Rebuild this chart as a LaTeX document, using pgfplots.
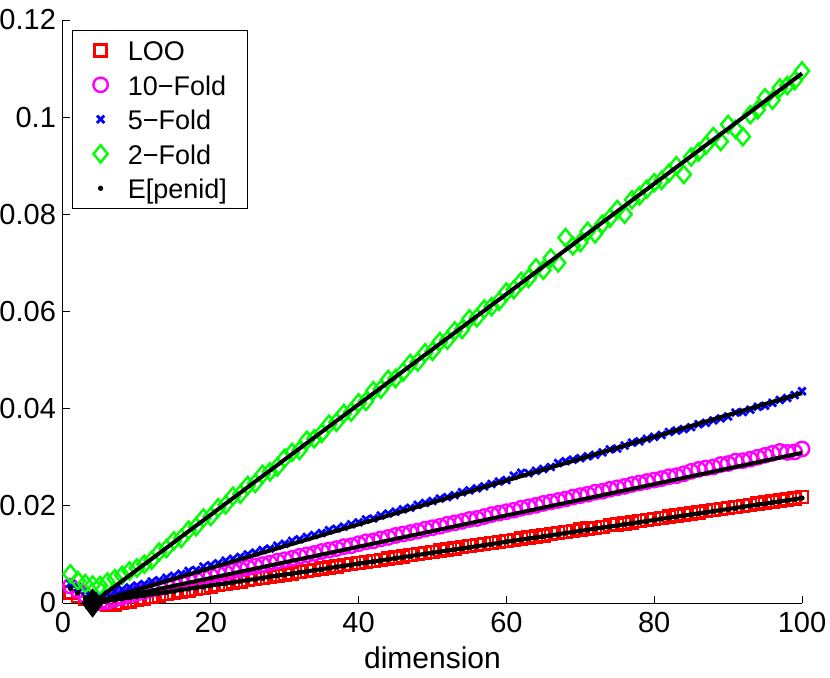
\documentclass[border=0pt]{standalone}
\usepackage{fontspec}
\setmainfont{Liberation Sans}
\usepackage{pgfplots}
\usepackage{pgfplotstable}
\pgfplotsset{compat=1.18}
\definecolor{mred}{rgb}{1,0,0}
\definecolor{mmag}{rgb}{1,0,1}
\definecolor{mblue}{rgb}{0,0,1}
\definecolor{mgreen}{rgb}{0,1,0}
\pgfplotsset{mleg/.style={legend image code/.code={\draw[##1] plot coordinates {(0pt,0pt)};}}}
\newcommand{\ls}{\rule[-2pt]{0pt}{14pt}}

\pgfplotstableread{
x loo k10 k5 k2 pen
1 .0022 .0035 .0040 .0060 .0030
2 .0015 .0026 .0032 .0046 .0021
3 .0008 .0016 .0024 .0040 .0011
4 .0002 .0006 .0018 .0037 .0000
5 -.0002 .0002 .0016 .0036 .0002
6 -.0003 .0003 .0020 .0043 .0004
7 -.0003 .0008 .0024 .0050 .0006
8 .0000 .0012 .0028 .0057 .0009
9 .0003 .0016 .0032 .0066 .0011
10 .0006 .0020 .0036 .0072 .0013
11 .0009 .0024 .0039 .0080 .0015
12 .0012 .0028 .0044 .0088 .0018
13 .0015 .0031 .0047 .0105 .0020
14 .0018 .0035 .0052 .0112 .0022
15 .0021 .0038 .0056 .0128 .0024
16 .0024 .0042 .0060 .0133 .0027
17 .0026 .0046 .0066 .0150 .0029
18 .0029 .0048 .0068 .0157 .0031
19 .0031 .0053 .0075 .0175 .0033
20 .0034 .0056 .0078 .0178 .0036
21 .0037 .0060 .0082 .0196 .0038
22 .0039 .0062 .0087 .0202 .0040
23 .0042 .0066 .0091 .0220 .0042
24 .0044 .0069 .0095 .0224 .0045
25 .0047 .0073 .0100 .0242 .0047
26 .0049 .0076 .0104 .0246 .0049
27 .0052 .0079 .0109 .0265 .0051
28 .0054 .0082 .0112 .0270 .0054
29 .0057 .0086 .0118 .0280 .0056
30 .0059 .0089 .0122 .0298 .0058
31 .0061 .0092 .0128 .0310 .0060
32 .0064 .0096 .0131 .0314 .0063
33 .0066 .0099 .0136 .0335 .0065
34 .0068 .0102 .0140 .0338 .0067
35 .0071 .0106 .0144 .0349 .0069
36 .0073 .0109 .0150 .0368 .0072
37 .0075 .0112 .0153 .0372 .0074
38 .0078 .0116 .0157 .0390 .0076
39 .0080 .0118 .0162 .0393 .0078
40 .0082 .0122 .0166 .0412 .0081
41 .0085 .0126 .0172 .0415 .0083
42 .0087 .0128 .0174 .0437 .0085
43 .0089 .0132 .0180 .0440 .0087
44 .0092 .0135 .0184 .0460 .0090
45 .0094 .0139 .0188 .0462 .0092
46 .0096 .0142 .0193 .0475 .0094
47 .0099 .0145 .0196 .0493 .0096
48 .0101 .0148 .0202 .0496 .0099
49 .0103 .0152 .0206 .0515 .0101
50 .0105 .0155 .0210 .0518 .0103
51 .0108 .0158 .0215 .0538 .0105
52 .0110 .0162 .0218 .0541 .0108
53 .0112 .0165 .0222 .0560 .0110
54 .0115 .0168 .0228 .0563 .0112
55 .0117 .0172 .0232 .0585 .0114
56 .0119 .0174 .0236 .0587 .0117
57 .0121 .0178 .0240 .0605 .0119
58 .0124 .0182 .0245 .0610 .0121
59 .0126 .0185 .0250 .0621 .0123
60 .0128 .0188 .0253 .0640 .0126
61 .0130 .0191 .0262 .0645 .0128
62 .0133 .0195 .0268 .0662 .0130
63 .0135 .0198 .0267 .0668 .0132
64 .0137 .0201 .0272 .0690 .0135
65 .0139 .0205 .0276 .0685 .0137
66 .0142 .0208 .0280 .0710 .0139
67 .0144 .0211 .0288 .0700 .0141
68 .0146 .0214 .0292 .0752 .0144
69 .0148 .0218 .0295 .0735 .0146
70 .0151 .0221 .0298 .0742 .0148
71 .0153 .0224 .0302 .0765 .0150
72 .0155 .0228 .0305 .0760 .0153
73 .0157 .0230 .0310 .0780 .0155
74 .0160 .0234 .0316 .0792 .0157
75 .0162 .0237 .0318 .0810 .0159
76 .0164 .0240 .0324 .0800 .0162
77 .0166 .0244 .0330 .0830 .0164
78 .0169 .0247 .0333 .0838 .0166
79 .0171 .0250 .0338 .0852 .0168
80 .0173 .0253 .0342 .0865 .0171
81 .0175 .0256 .0346 .0870 .0173
82 .0178 .0260 .0352 .0885 .0175
83 .0180 .0262 .0355 .0900 .0177
84 .0182 .0266 .0358 .0882 .0180
85 .0184 .0271 .0362 .0918 .0182
86 .0186 .0275 .0368 .0928 .0184
87 .0189 .0278 .0371 .0942 .0186
88 .0191 .0280 .0376 .0960 .0189
89 .0193 .0285 .0380 .0950 .0191
90 .0196 .0287 .0384 .0985 .0193
91 .0198 .0292 .0392 .0975 .0195
92 .0200 .0293 .0393 .0960 .0198
93 .0202 .0296 .0398 .1005 .0200
94 .0205 .0300 .0404 .1015 .0202
95 .0207 .0304 .0406 .1040 .0204
96 .0209 .0308 .0412 .1035 .0207
97 .0211 .0312 .0418 .1060 .0209
98 .0213 .0310 .0422 .1065 .0211
99 .0215 .0311 .0428 .1075 .0213
100 .0218 .0317 .0436 .1095 .0216
}\datatable

\begin{document}
\begin{tikzpicture}
\useasboundingbox (-31.5pt,-37pt) rectangle (383.5pt,301.5pt);
\begin{axis}[
  at={(0pt,0pt)}, anchor=south west,
  width=369.5pt, height=291.5pt, scale only axis,
  xmin=0, xmax=100, ymin=0, ymax=0.12,
  axis x line*=bottom, axis y line*=left,
  axis line style={-, line width=0.5pt},
  tick align=inside, major tick length=3.5pt,
  tick style={black, line width=0.5pt},
  xtick={0,20,40,60,80,100},
  ytick={0,0.02,0.04,0.06,0.08,0.1,0.12},
  scaled y ticks=false,
  yticklabel style={/pgf/number format/fixed, /pgf/number format/precision=2},
  /pgf/number format/assume math mode=true,
  ticklabel style={font=\fontsize{14.5}{17}\selectfont},
  xticklabel style={yshift=-1pt},
  xlabel={dimension},
  xlabel style={font=\fontsize{15}{17}\selectfont, at={(axis description cs:0.5,0)}, anchor=base, yshift=-32.5pt},
  clip=false, clip mode=individual,
  legend cell align=left,
  legend style={at={(0,1)}, anchor=north west, xshift=4.5pt, yshift=-5pt,
    draw=black, thin, font=\fontsize{13.5}{17}\selectfont,
    inner xsep=10.5pt, inner ysep=3.2pt, row sep=3.75pt, column sep=10pt,
    nodes={inner sep=0pt}},
]
\addplot[only marks, mleg, mark=square, mark size=3pt, color=mred, line width=1.2pt] table[x=x,y=loo] {\datatable};
\addlegendentry{\ls LOO}
\addplot[only marks, mleg, mark=o, mark size=3.6pt, color=mmag, line width=1.2pt] table[x=x,y=k10] {\datatable};
\addlegendentry{\ls 10−Fold}
\addplot[only marks, mleg, mark=x, mark size=2.6pt, color=mblue, line width=1.4pt] table[x=x,y=k5] {\datatable};
\addlegendentry{\ls 5−Fold}
\addplot[only marks, mleg, mark=diamond, mark size=4.3pt, mark options={xscale=1.1}, color=mgreen, line width=1.2pt] table[x=x,y=k2] {\datatable};
\addlegendentry{\ls 2−Fold}
\addplot[only marks, mleg, mark=*, mark size=1.1pt, color=black] table[x=x,y=pen] {\datatable};
\addlegendentry{\ls E[penid]}
\addplot[black, line width=2pt, forget plot] coordinates {(4,0) (100,0.109)};
\addplot[black, line width=2pt, forget plot] coordinates {(4,0) (100,0.0432)};
\addplot[black, line width=2pt, forget plot] coordinates {(4,0) (100,0.0309)};
\addplot[black, line width=2pt, forget plot] coordinates {(4,0) (100,0.0216)};
\addplot[only marks, mark=diamond*, mark size=7pt, black, forget plot] coordinates {(4,0)};
\end{axis}
\end{tikzpicture}
\end{document}
